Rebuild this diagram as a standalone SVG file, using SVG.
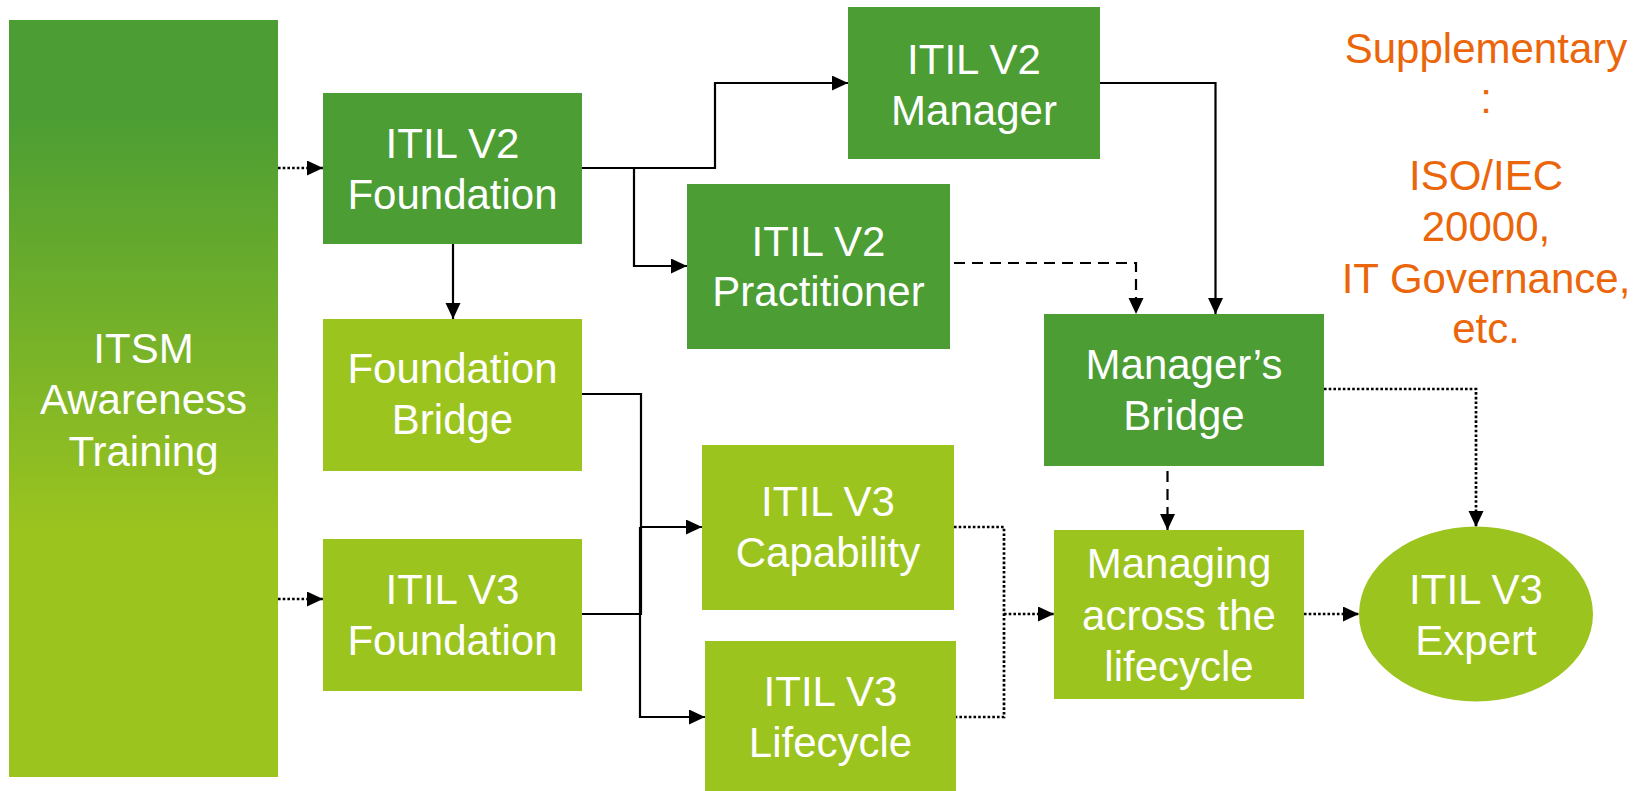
<svg xmlns="http://www.w3.org/2000/svg" width="1644" height="791" viewBox="0 0 1644 791">
<style>
.dark{fill:#4b9d34}
.light{fill:#9cc41f}
.t{font-family:"Liberation Sans",Arial,sans-serif;font-size:42px;fill:#ffffff;text-anchor:middle}
.sup{font-family:"Liberation Sans",Arial,sans-serif;font-size:42px;fill:#eb660a;text-anchor:middle}
.c{fill:none;stroke:#000;stroke-width:2.2}
.dot{stroke-dasharray:2.6 2.1;stroke-width:2.7}
.dash{stroke-dasharray:11 7}
</style>
<defs>
<linearGradient id="g1" x1="0" y1="0" x2="0" y2="1">
<stop offset="0.12" stop-color="#4b9d34"/>
<stop offset="0.68" stop-color="#9cc41f"/>
</linearGradient>
<marker id="ah" markerUnits="userSpaceOnUse" markerWidth="16" markerHeight="16" refX="16" refY="7.5" orient="auto">
<path d="M0,0 L16,7.5 L0,15 Z" fill="#000"/>
</marker>
</defs>
<rect width="1644" height="791" fill="#ffffff"/>
<g id="connectors">
<path class="c dot" d="M278,168 H323" marker-end="url(#ah)"/>
<path class="c dot" d="M278,599 H323" marker-end="url(#ah)"/>
<path class="c" d="M453,244 V319" marker-end="url(#ah)"/>
<path class="c" d="M582,168 H715 V83 H848" marker-end="url(#ah)"/>
<path class="c" d="M634,168 V266 H687" marker-end="url(#ah)"/>
<path class="c dash" d="M954,263 H1136 V314" marker-end="url(#ah)"/>
<path class="c" d="M1100,83 H1215.5 V314" marker-end="url(#ah)"/>
<path class="c" d="M582,394 H641 V614 H582"/>
<path class="c" d="M641,527 H702" marker-end="url(#ah)"/>
<path class="c" d="M640,527 V717 H705" marker-end="url(#ah)"/>
<path class="c dot" d="M954,527 H1004 V717 H956"/>
<path class="c dot" d="M1004,614 H1054" marker-end="url(#ah)"/>
<path class="c dash" d="M1167.5,471 V530" marker-end="url(#ah)"/>
<path class="c dot" d="M1324,389 H1476 V527" marker-end="url(#ah)"/>
<path class="c dot" d="M1304,614 H1359" marker-end="url(#ah)"/>
</g>
<g id="itsm">
<rect x="9" y="20" width="269" height="757" fill="url(#g1)"/>
<text class="t" x="143.5" y="363">ITSM</text>
<text class="t" x="143.5" y="414">Awareness</text>
<text class="t" x="143.5" y="466">Training</text>
</g>
<g id="v2foundation">
<rect class="dark" x="323" y="93" width="259" height="151"/>
<text class="t" x="452.5" y="158">ITIL V2</text>
<text class="t" x="452.5" y="209">Foundation</text>
</g>
<g id="foundationbridge">
<rect class="light" x="323" y="319" width="259" height="152"/>
<text class="t" x="452.5" y="383">Foundation</text>
<text class="t" x="452.5" y="434">Bridge</text>
</g>
<g id="v3foundation">
<rect class="light" x="323" y="539" width="259" height="152"/>
<text class="t" x="452.5" y="604">ITIL V3</text>
<text class="t" x="452.5" y="655">Foundation</text>
</g>
<g id="v2manager">
<rect class="dark" x="848" y="7" width="252" height="152"/>
<text class="t" x="974" y="74">ITIL V2</text>
<text class="t" x="974" y="125">Manager</text>
</g>
<g id="v2practitioner">
<rect class="dark" x="687" y="184" width="263" height="165"/>
<text class="t" x="818.5" y="256">ITIL V2</text>
<text class="t" x="818.5" y="306">Practitioner</text>
</g>
<g id="managersbridge">
<rect class="dark" x="1044" y="314" width="280" height="152"/>
<text class="t" x="1184" y="379">Manager’s</text>
<text class="t" x="1184" y="430">Bridge</text>
</g>
<g id="v3capability">
<rect class="light" x="702" y="445" width="252" height="165"/>
<text class="t" x="828" y="516">ITIL V3</text>
<text class="t" x="828" y="567">Capability</text>
</g>
<g id="v3lifecycle">
<rect class="light" x="705" y="641" width="251" height="150"/>
<text class="t" x="830.5" y="706">ITIL V3</text>
<text class="t" x="830.5" y="757">Lifecycle</text>
</g>
<g id="managing">
<rect class="light" x="1054" y="530" width="250" height="169"/>
<text class="t" x="1179" y="578">Managing</text>
<text class="t" x="1179" y="630">across the</text>
<text class="t" x="1179" y="681">lifecycle</text>
</g>
<g id="v3expert">
<ellipse class="light" cx="1476" cy="614" rx="117" ry="87.5"/>
<text class="t" x="1476" y="604">ITIL V3</text>
<text class="t" x="1476" y="655">Expert</text>
</g>
<g id="supplementary">
<text class="sup" x="1486" y="63">Supplementary</text>
<text class="sup" x="1486" y="113">:</text>
<text class="sup" x="1486" y="190">ISO/IEC</text>
<text class="sup" x="1486" y="241">20000,</text>
<text class="sup" x="1486" y="293">IT Governance,</text>
<text class="sup" x="1486" y="343">etc.</text>
</g>
</svg>
